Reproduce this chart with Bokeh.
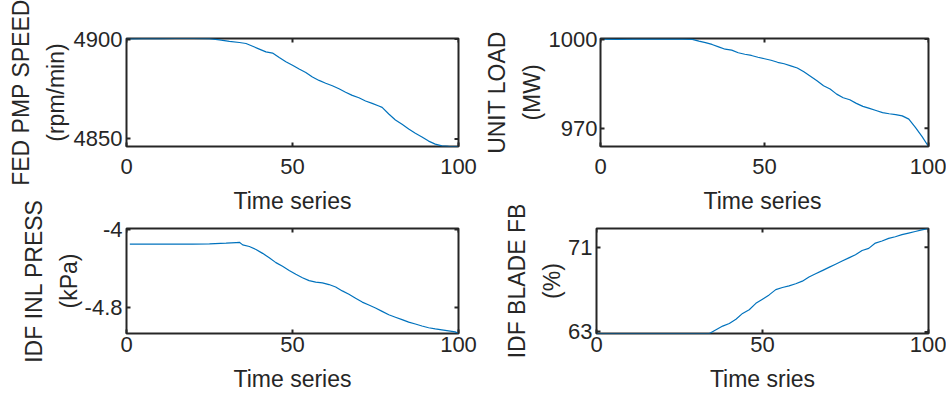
import math
from bokeh.plotting import figure
from bokeh.layouts import column, row
from bokeh.models import Range1d, FixedTicker, CustomJSTickFormatter, LinearAxis
from bokeh.embed import file_html
from bokeh.resources import INLINE

# ---- data ----
x_speed = [0, 5, 10, 15, 20, 25, 28, 31, 34, 36, 38, 40, 42, 44, 46, 48, 50, 52, 54, 56, 58, 60,
           62, 64, 66, 68, 70, 72, 74, 76, 77, 79, 81, 83, 85, 87, 89, 91, 93, 95, 97, 100]
y_speed = [4900.1, 4900.2, 4900.2, 4900.3, 4900.3, 4900.2, 4899.6, 4898.9, 4898.3, 4897.8, 4896.4,
           4895.0, 4893.6, 4893.0, 4890.8, 4888.7, 4886.9, 4885.0, 4883.3, 4881.0, 4879.3, 4877.9,
           4876.6, 4875.1, 4873.4, 4871.8, 4870.6, 4869.0, 4867.8, 4866.5, 4865.8, 4862.5, 4859.5,
           4857.3, 4855.0, 4852.8, 4851.0, 4848.9, 4847.4, 4846.5, 4846.3, 4846.2]

x_load = [0, 5, 10, 15, 20, 25, 28, 30, 32, 34, 36, 38, 40, 42, 44, 46, 48, 50, 52, 54, 56, 58, 60,
          62, 64, 66, 68, 70, 72, 74, 76, 78, 80, 82, 84, 86, 88, 90, 92, 94, 96, 98, 100]
y_load = [1000.0, 999.9, 1000.0, 1000.0, 1000.0, 1000.0, 999.9, 999.3, 998.8, 998.2, 997.4, 996.6,
          996.3, 995.4, 994.9, 994.5, 993.9, 993.4, 992.9, 992.2, 991.7, 991.0, 990.3, 989.0, 987.5,
          986.0, 984.3, 983.2, 981.5, 980.3, 979.6, 978.4, 977.4, 976.7, 976.0, 975.3, 974.9, 974.6,
          974.2, 973.1, 970.3, 967.3, 963.9]

x_press = [1, 5, 10, 15, 20, 25, 30, 33, 34, 35, 37, 39, 41, 43, 45, 47, 49, 51, 53, 55, 57, 59, 61,
           63, 65, 67, 69, 71, 73, 75, 77, 79, 81, 83, 85, 87, 89, 91, 93, 95, 97, 99, 100]
y_press = [-4.150, -4.150, -4.150, -4.150, -4.150, -4.148, -4.140, -4.134, -4.132, -4.158, -4.175,
           -4.205, -4.245, -4.290, -4.340, -4.378, -4.420, -4.460, -4.495, -4.525, -4.540, -4.548,
           -4.565, -4.590, -4.630, -4.665, -4.705, -4.745, -4.775, -4.805, -4.840, -4.875, -4.900,
           -4.925, -4.950, -4.970, -4.990, -5.008, -5.020, -5.030, -5.040, -5.050, -5.067]

x_blade = [0, 5, 10, 15, 20, 25, 30, 34, 36, 38, 40, 42, 44, 46, 48, 50, 52, 54, 56, 58, 60, 62, 64,
           66, 68, 70, 72, 74, 76, 78, 80, 82, 84, 86, 88, 90, 92, 94, 96, 98, 100]
y_blade = [62.85, 62.85, 62.85, 62.85, 62.85, 62.85, 62.85, 62.85, 63.2, 63.55, 63.8, 64.2, 64.75,
           65.1, 65.7, 66.1, 66.5, 67.0, 67.2, 67.35, 67.55, 67.8, 68.2, 68.5, 68.8, 69.1, 69.4, 69.7,
           70.0, 70.3, 70.7, 70.9, 71.4, 71.6, 71.85, 72.0, 72.2, 72.35, 72.5, 72.65, 72.78]

x_ticks = [0, 50, 100]
speed_ticks = [4850, 4900]
load_ticks = [970, 1000]
press_ticks = [-4.8, -4]
blade_ticks = [63, 71]

FONT = "Liberation Sans"
DARK = "#262626"
LINE = "#0072BD"

fmt_code = "return String(Math.round(tick*100)/100);"


def style_axis(ax, ticks, standoff):
    ax.ticker = FixedTicker(ticks=ticks)
    ax.formatter = CustomJSTickFormatter(code=fmt_code)
    ax.axis_line_color = None
    ax.major_tick_in = 4
    ax.major_tick_out = 0
    ax.major_tick_line_width = 2
    ax.major_tick_line_color = DARK
    ax.minor_tick_line_color = None
    ax.major_label_text_font = FONT
    ax.major_label_text_color = DARK
    ax.major_label_standoff = standoff
    ax.major_label_text_font_size = "22px"
    ax.axis_label_text_font = FONT
    ax.axis_label_text_font_size = "23px"
    ax.axis_label_text_font_style = "normal"
    ax.axis_label_text_color = DARK


def panel(xs, ys, yr, yticks, xlabel, ylabel, width, height, bl, br, bt, bb,
          xs1, xs2, ys1, ys2, upper_caption=None, caption_standoff=0):
    p = figure(width=width, height=height, x_range=Range1d(0, 100),
               y_range=Range1d(yr[0], yr[1]), output_backend="svg",
               toolbar_location=None, min_border_left=bl, min_border_right=br,
               min_border_top=bt, min_border_bottom=bb)
    p.line(xs, ys, line_color=LINE, line_width=1.2)
    # mirrored tick marks on the top and right edges (half clipped by the frame)
    p.scatter(x_ticks, [yr[1]] * len(x_ticks), marker="dash", angle=math.pi / 2,
              size=8, line_width=2, line_color=DARK)
    p.scatter([100] * len(yticks), yticks, marker="dash", size=8,
              line_width=2, line_color=DARK)
    p.grid.visible = False
    p.outline_line_color = DARK
    p.outline_line_width = 2
    p.outline_line_alpha = 1
    p.background_fill_color = "white"
    p.border_fill_color = "white"

    xa = p.xaxis[0]
    style_axis(xa, x_ticks, xs1)
    if xlabel:
        xa.axis_label = xlabel
        xa.axis_label_standoff = xs2

    ya = p.yaxis[0]
    style_axis(ya, yticks, ys1)
    ya.axis_label = ylabel
    ya.axis_label_standoff = ys2
    ya.axis_label_text_line_height = 1.33

    if upper_caption:
        # x-axis caption of the panel above, carried by a tick-less axis on this
        # canvas's top edge so that the upper canvas need not reach that far
        ta = LinearAxis(axis_label=upper_caption)
        style_axis(ta, [], 0)
        ta.major_tick_line_color = None
        ta.axis_label_standoff = caption_standoff
        p.add_layout(ta, "above")
    return p


# upper row: canvas 0..184, lower row: canvas 184..398
p1 = panel(x_speed, y_speed, (4846.2, 4900.3), speed_ticks, None,
           "FED PMP SPEED\n(rpm/min)", 480, 184, 126, 22, 38, 38, 12, 0, 4, 2)
p2 = panel(x_load, y_load, (963.9, 1000.2), load_ticks, None,
           "UNIT LOAD\n(MW)", 466, 184, 116, 18, 38, 38, 12, 0, 3, 1)
p3 = panel(x_press, y_press, (-5.067, -3.99), press_ticks, "Time series",
           "IDF INL PRESS\n(kPa)", 480, 214, 126, 22, 42, 65, 3, 11, 4, 0,
           upper_caption="Time series", caption_standoff=15)
p4 = panel(x_blade, y_blade, (62.85, 72.78), blade_ticks, "Time sries",
           "IDF BLADE FB\n(%)", 466, 214, 116, 18, 42, 65, 3, 11, 4, 0,
           upper_caption="Time series", caption_standoff=15)

layout = column(row(p1, p2), row(p3, p4))

open("out.html", "w").write(file_html(layout, INLINE))
